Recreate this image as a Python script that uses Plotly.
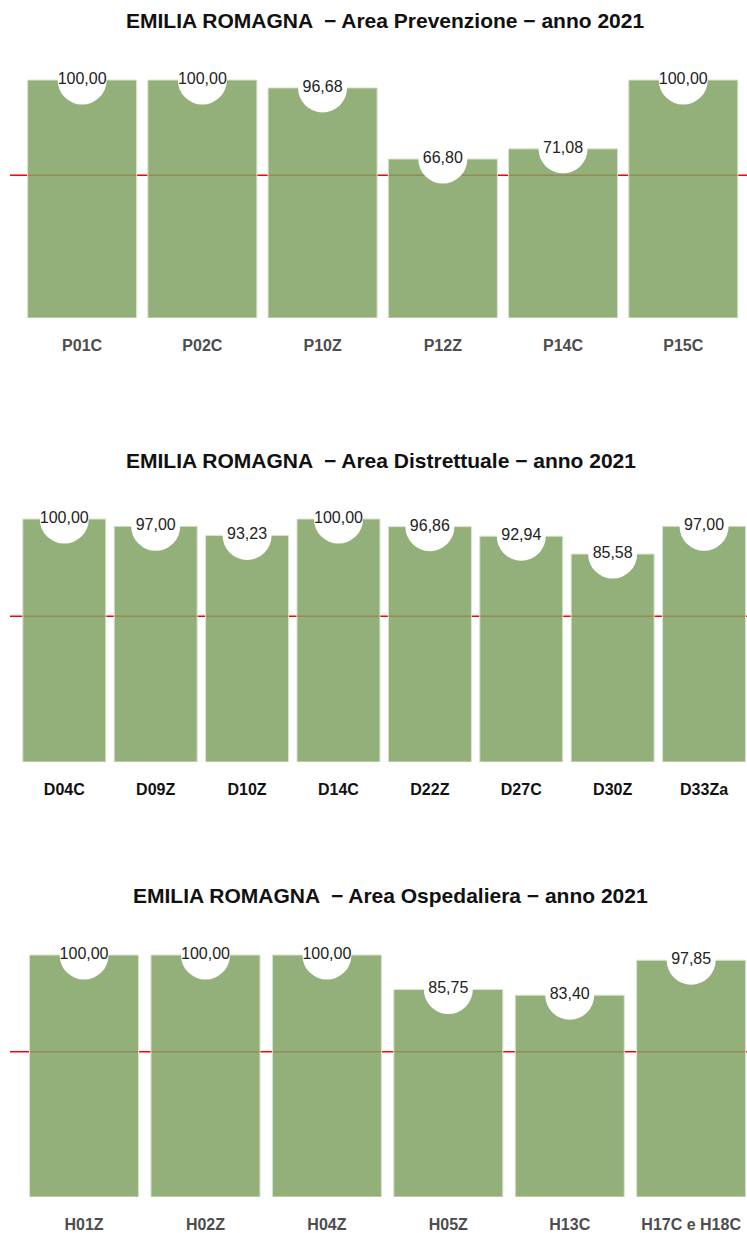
import plotly.graph_objects as go

# ---- data ----
prev_cat = ["P01C", "P02C", "P10Z", "P12Z", "P14C", "P15C"]
prev_val = [100.00, 100.00, 96.68, 66.80, 71.08, 100.00]

distr_cat = ["D04C", "D09Z", "D10Z", "D14C", "D22Z", "D27C", "D30Z", "D33Za"]
distr_val = [100.00, 97.00, 93.23, 100.00, 96.86, 92.94, 85.58, 97.00]

osp_cat = ["H01Z", "H02Z", "H04Z", "H05Z", "H13C", "H17C e H18C"]
osp_val = [100.00, 100.00, 100.00, 85.75, 83.40, 97.85]

titles = [
    "EMILIA ROMAGNA  \u2212 Area Prevenzione \u2212 anno 2021",
    "EMILIA ROMAGNA  \u2212 Area Distrettuale \u2212 anno 2021",
    "EMILIA ROMAGNA  \u2212 Area Ospedaliera \u2212 anno 2021",
]
threshold = 60

W, H = 747, 1233
FONT = "Liberation Sans, Arial, sans-serif"
BAR_COLOR = "rgba(128,162,99,0.85)"

panels = [
    dict(cat=prev_cat, val=prev_val, xr=[-0.6, 5.53], y0=318, y100=80, tick="#4d4d4d",
         title_x=385, title_y=20, width=0.907),
    dict(cat=distr_cat, val=distr_val, xr=[-0.594, 7.47], y0=762, y100=519, tick="#111111",
         title_x=381, title_y=461, width=0.908),
    dict(cat=osp_cat, val=osp_val, xr=[-0.61, 5.46], y0=1197, y100=955, tick="#4d4d4d",
         title_x=390, title_y=895, width=0.898),
]

fig = go.Figure()
layout = dict(
    width=W, height=H, margin=dict(l=0, r=0, t=0, b=0),
    paper_bgcolor="white", plot_bgcolor="white", showlegend=False,
    font=dict(family=FONT),
)
annotations = []
shapes = []
for i, p in enumerate(panels):
    n = i + 1
    xa = "x" if n == 1 else f"x{n}"
    ya = "y" if n == 1 else f"y{n}"
    fig.add_trace(go.Bar(
        x=p["cat"], y=p["val"], xaxis=xa, yaxis=ya, width=p["width"],
        marker=dict(color=BAR_COLOR, line=dict(color="#d9e4cf", width=1)),
        hoverinfo="skip",
    ))
    fig.add_trace(go.Scatter(
        x=p["cat"], y=p["val"], xaxis=xa, yaxis=ya, mode="markers+text",
        marker=dict(size=49, color="white", line=dict(width=0)),
        text=[f"{v:.2f}".replace(".", ",") for v in p["val"]],
        textposition="middle center",
        textfont=dict(size=16, color="#222222", family=FONT),
        cliponaxis=False, hoverinfo="skip",
    ))
    ppu = (p["y0"] - p["y100"]) / 100.0
    top_px = p["y0"] - 105 * ppu
    dom = [(H - p["y0"]) / H, (H - top_px) / H]
    layout[f"xaxis{'' if n == 1 else n}"] = dict(
        domain=[10 / W, 1], range=p["xr"], anchor=ya, type="category",
        showgrid=False, zeroline=False, showline=False, ticks="",
        ticklabelstandoff=16,
        tickfont=dict(size=16, color=p["tick"], family="Liberation Sans", weight="bold"),
    )
    layout[f"yaxis{'' if n == 1 else n}"] = dict(
        domain=dom, range=[0, 105], anchor=xa, showgrid=False, zeroline=False,
        showticklabels=False, showline=False,
    )
    shapes.append(dict(
        type="line", xref=f"{xa} domain", yref=ya, x0=0, x1=1, y0=threshold, y1=threshold,
        line=dict(color="#ff0000", width=1.5), layer="below",
    ))
    annotations.append(dict(
        text=f"<b>{titles[i]}</b>", xref="paper", yref="paper",
        x=p["title_x"] / W, y=(H - p["title_y"]) / H, xanchor="center", yanchor="middle",
        showarrow=False, font=dict(size=21, color="#111111", family=FONT),
    ))

layout["annotations"] = annotations
layout["shapes"] = shapes
fig.update_layout(**layout)
fig.write_html(
    "out.html",
    config={"displayModeBar": False, "staticPlot": True},
    post_script="document.body.style.margin='0';document.body.style.overflow='hidden';",
)
